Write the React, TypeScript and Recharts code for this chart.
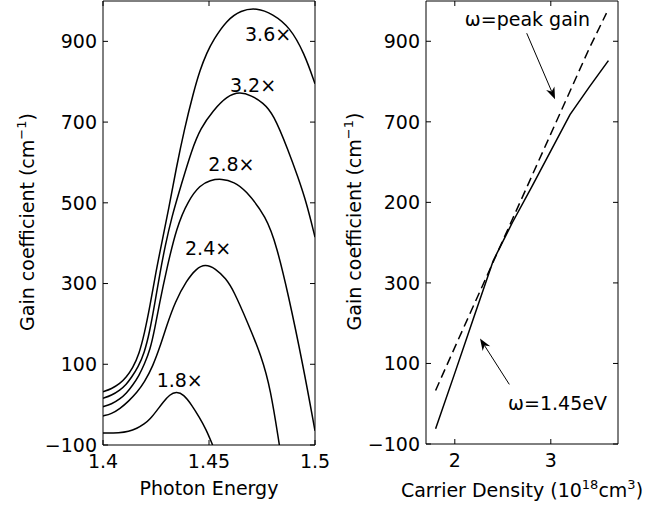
import React from "react";
import { LineChart, Line, XAxis, YAxis, ReferenceDot, ReferenceLine } from "recharts";

const FONT = "'DejaVu Sans', 'Liberation Sans', sans-serif";

// ---- left panel: gain spectra, one curve per carrier density (photon energy, gain) ----
const gain18: [number, number][] = [
  [1.4, -70], [1.408, -70], [1.412, -67], [1.416, -59], [1.4195, -48], [1.4222, -36],
  [1.4255, -14], [1.4285, 7], [1.4315, 25], [1.4345, 32], [1.438, 26], [1.442, -2],
  [1.4455, -32], [1.4485, -60], [1.4517, -100],
];
const gain24: [number, number][] = [
  [1.4, -28], [1.404, -23], [1.408, -10], [1.412, 8], [1.416, 30], [1.4195, 55],
  [1.4235, 95], [1.427, 145], [1.43, 195], [1.434, 255], [1.4395, 308], [1.444, 337],
  [1.4481, 348], [1.453, 338], [1.458, 312], [1.4615, 284], [1.4685, 200], [1.4748, 119],
  [1.479, 40], [1.4832, -100],
];
const gain28: [number, number][] = [
  [1.4, -5], [1.404, 1], [1.408, 14], [1.411, 28], [1.414, 48], [1.417, 72], [1.4195, 100],
  [1.4222, 135], [1.4245, 190], [1.4266, 250], [1.43, 335], [1.4347, 440], [1.4402, 506],
  [1.4458, 544], [1.4505, 556], [1.456, 560], [1.462, 551], [1.467, 533], [1.4772, 465],
  [1.482, 390], [1.4872, 278], [1.4945, 94], [1.5, -65],
];
const gain32: [number, number][] = [
  [1.4, 16], [1.404, 23], [1.408, 36], [1.411, 50], [1.4135, 68], [1.4165, 92], [1.4195, 128],
  [1.422, 180], [1.4244, 250], [1.427, 330], [1.4292, 390], [1.4324, 465], [1.4371, 548],
  [1.4418, 630], [1.446, 685], [1.452, 729], [1.4585, 765], [1.4646, 775], [1.47, 766],
  [1.4755, 748], [1.4803, 721], [1.4874, 630], [1.492, 563], [1.496, 500], [1.5, 415],
];
const gain36: [number, number][] = [
  [1.4, 32], [1.404, 39], [1.408, 52], [1.411, 68], [1.414, 90], [1.417, 125], [1.4195, 175],
  [1.4222, 245], [1.425, 330], [1.4277, 400], [1.431, 485], [1.4345, 585], [1.4385, 685],
  [1.4425, 770], [1.4458, 830], [1.449, 872], [1.452, 903], [1.4583, 952], [1.465, 977],
  [1.4725, 983], [1.48, 968], [1.4882, 935], [1.495, 870], [1.5, 795],
];
const leftCurves = [gain18, gain24, gain28, gain32, gain36];

// curve labels: [energy, gain, text]
const leftLabels: [number, number, string][] = [
  [1.4253, 44, "1.8×"],
  [1.4387, 370, "2.4×"],
  [1.4497, 580, "2.8×"],
  [1.4599, 774, "3.2×"],
  [1.467, 902, "3.6×"],
];

const energyTicks = [1.4, 1.45, 1.5];
const gainTicks = [-100, 100, 300, 500, 700, 900];
const leftGainLabels = ["−100", "100", "300", "500", "700", "900"];

// ---- right panel: gain vs carrier density ----
const density = [1.8, 2.0, 2.2, 2.4, 2.6, 2.8, 3.0, 3.2, 3.4, 3.6];
const gainAt145 = [-62, 76, 216, 355, 450, 538, 628, 718, 786, 852];
const densityPeak = [1.8, 2.0, 2.2, 2.4, 2.6, 2.8, 3.0, 3.2, 3.4, 3.58];
const gainPeak = [33, 140, 246, 352, 458, 564, 670, 776, 882, 970];

const densityTicks = [2, 3];
const rightGainLabels = ["−100", "100", "300", "200", "700", "900"];

const toPts = (arr: [number, number][]) => arr.map(([x, y]) => ({ x, y }));
const zipPts = (xs: number[], ys: number[]) => xs.map((x, i) => ({ x, y: ys[i] }));

const tickStyle = { fill: "#000", fontSize: 19, fontFamily: FONT };
const noLabel = () => <g />;

const arrowShape = (props: any) => {
  const { x1, y1, x2, y2 } = props;
  const a = Math.atan2(y2 - y1, x2 - x1);
  const len = 12;
  const half = 4.5;
  const bx = x2 - len * Math.cos(a);
  const by = y2 - len * Math.sin(a);
  const ix = x2 - len * 0.7 * Math.cos(a);
  const iy = y2 - len * 0.7 * Math.sin(a);
  const nx = -Math.sin(a) * half;
  const ny = Math.cos(a) * half;
  return (
    <g>
      <line x1={x1} y1={y1} x2={ix} y2={iy} stroke="#000" strokeWidth={1} />
      <polygon
        points={`${x2},${y2} ${bx + nx},${by + ny} ${ix},${iy} ${bx - nx},${by - ny}`}
        fill="#000"
      />
    </g>
  );
};

const textAt = (text: string, anchor: "start" | "middle") => (props: any) => (
  <text x={props.cx} y={props.cy} textAnchor={anchor} fontSize={19} fontFamily={FONT} fill="#000">
    {text}
  </text>
);

const yTitle = (bx: number) => (props: any) => {
  const vb = props.viewBox;
  const cy = vb.y + vb.height / 2 - 1;
  return (
    <text transform={`translate(${bx},${cy}) rotate(-90)`} textAnchor="middle" fontSize={19} fontFamily={FONT} fill="#000">
      Gain coefficient (cm
      <tspan dy={-8} fontSize={13}>−1</tspan>
      <tspan dy={8}>)</tspan>
    </text>
  );
};

// top / right edges of the box, with inward ticks; a hidden series keeps them scaled
const BoxAxes = (xDomain: number[], xTicks: number[], pts: { x: number; y: number }[]) => [
  <XAxis key="top" xAxisId="top" orientation="top" type="number" dataKey="x" domain={xDomain} ticks={xTicks} allowDataOverflow mirror tick={noLabel} axisLine={{ stroke: "#000" }} tickSize={5} tickLine={{ stroke: "#000" }} />,
  <YAxis key="ri" yAxisId="ri" orientation="right" type="number" domain={[-100, 1000]} ticks={gainTicks} allowDataOverflow mirror tick={noLabel} axisLine={{ stroke: "#000" }} tickSize={5} tickLine={{ stroke: "#000" }} />,
  <Line key="hidden" xAxisId="top" yAxisId="ri" data={pts} dataKey="y" stroke="none" dot={false} activeDot={false} legendType="none" isAnimationActive={false} />,
];

const LeftPanel = () => (
  <LineChart width={330} height={513} margin={{ top: 1, right: 15, bottom: 0, left: 0 }}>
    <XAxis
      type="number"
      dataKey="x"
      domain={[1.4, 1.5]}
      ticks={energyTicks}
      allowDataOverflow
      height={68}
      tickLine={{ stroke: "#000" }}
      tickSize={-5}
      tickMargin={15}
      tick={tickStyle}
      axisLine={{ stroke: "#000" }}
      tickFormatter={(v: number) => String(v)}
      label={(p: any) => (
        <text x={p.viewBox.x + p.viewBox.width / 2} y={p.viewBox.y + 50} textAnchor="middle" fontSize={19} fontFamily={FONT} fill="#000">
          Photon Energy
        </text>
      )}
    />
    <YAxis
      type="number"
      domain={[-100, 1000]}
      ticks={gainTicks}
      allowDataOverflow
      width={103}
      tickLine={{ stroke: "#000" }}
      tickSize={-5}
      tickMargin={11}
      tick={tickStyle}
      axisLine={{ stroke: "#000" }}
      tickFormatter={(v: number, i: number) => leftGainLabels[i] ?? String(v)}
      label={yTitle(34)}
    />
    {BoxAxes([1.4, 1.5], energyTicks, toPts(gain36))}
    {leftCurves.map((c, i) => (
      <Line key={i} data={toPts(c)} dataKey="y" type="basis" stroke="#000" strokeWidth={1.5} dot={false} isAnimationActive={false} />
    ))}
    {leftLabels.map(([x, y, t]) => (
      <ReferenceDot key={t} x={x} y={y} r={0} shape={textAt(t, "start")} />
    ))}
  </LineChart>
);

const RightPanel = () => (
  <LineChart width={319} height={513} margin={{ top: 1, right: 31, bottom: 0, left: 0 }}>
    <XAxis
      type="number"
      dataKey="x"
      domain={[1.7, 3.7]}
      ticks={densityTicks}
      allowDataOverflow
      height={69}
      tickLine={{ stroke: "#000" }}
      tickSize={-5}
      tickMargin={15}
      tick={tickStyle}
      axisLine={{ stroke: "#000" }}
      label={(p: any) => (
        <text x={p.viewBox.x + p.viewBox.width / 2} y={p.viewBox.y + 53} textAnchor="middle" fontSize={19} fontFamily={FONT} fill="#000">
          Carrier Density (10
          <tspan dy={-8} fontSize={13}>18</tspan>
          <tspan dy={8}>cm</tspan>
          <tspan dy={-8} fontSize={13}>3</tspan>
          <tspan dy={8}>)</tspan>
        </text>
      )}
    />
    <YAxis
      type="number"
      domain={[-100, 1000]}
      ticks={gainTicks}
      allowDataOverflow
      width={96}
      tickLine={{ stroke: "#000" }}
      tickSize={-5}
      tickMargin={11}
      tick={tickStyle}
      axisLine={{ stroke: "#000" }}
      tickFormatter={(v: number, i: number) => rightGainLabels[i] ?? String(v)}
      label={yTitle(31)}
    />
    {BoxAxes([1.7, 3.7], densityTicks, zipPts(density, gainAt145))}
    <Line data={zipPts(densityPeak, gainPeak)} dataKey="y" type="linear" stroke="#000" strokeWidth={1.5} strokeDasharray="9 5" dot={false} isAnimationActive={false} />
    <Line data={zipPts(density, gainAt145)} dataKey="y" type="linear" stroke="#000" strokeWidth={1.5} dot={false} isAnimationActive={false} />
    <ReferenceDot x={2.757} y={937} r={0} shape={textAt("ω=peak gain", "middle")} />
    <ReferenceDot x={3.07} y={-16} r={0} shape={textAt("ω=1.45eV", "middle")} />
    <ReferenceLine segment={[{ x: 2.749, y: 920 }, { x: 3.044, y: 756 }]} shape={arrowShape} ifOverflow="visible" />
    <ReferenceLine segment={[{ x: 2.568, y: 48 }, { x: 2.2625, y: 162 }]} shape={arrowShape} ifOverflow="visible" />
  </LineChart>
);

export default function App() {
  return (
    <div style={{ position: "absolute", left: 0, top: 0, width: 649, height: 513, background: "#fff", fontFamily: FONT }}>
      <div style={{ position: "absolute", left: 0, top: 0 }}>
        <LeftPanel />
      </div>
      <div style={{ position: "absolute", left: 330, top: 0 }}>
        <RightPanel />
      </div>
    </div>
  );
}
